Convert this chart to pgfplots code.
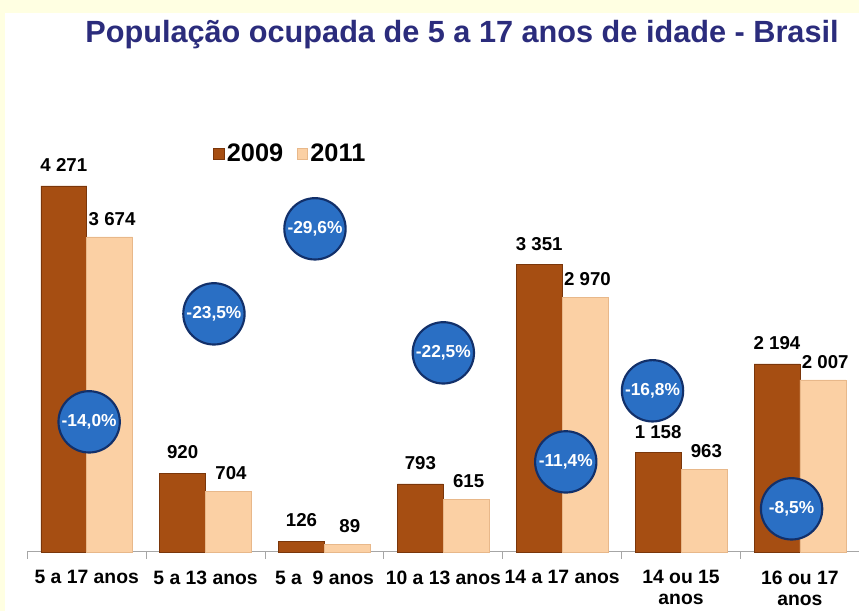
\documentclass[border=0pt]{standalone}
\usepackage{fontspec}
\setmainfont{Liberation Sans}
\usepackage{pgfplots}
\pgfplotsset{compat=1.18}
\definecolor{bgyellow}{HTML}{FFFFE2}
\definecolor{titleblue}{HTML}{2B2C7C}
\definecolor{cA}{HTML}{A64E12}
\definecolor{cAd}{HTML}{7A360A}
\definecolor{cB}{HTML}{FBD0A4}
\definecolor{cBd}{HTML}{E8B88A}
\definecolor{circblue}{HTML}{2A6FC4}
\definecolor{circdark}{HTML}{12306A}
\begin{document}
\begin{tikzpicture}[x=0.75pt,y=0.75pt]
\useasboundingbox (0,0) rectangle (859,611);
\fill[bgyellow] (0,0) rectangle (859,611);
\fill[white] (5,0) rectangle (859,598);
\node[font=\fontsize{23}{27}\selectfont\bfseries, text=titleblue] at (462,576) {População ocupada de 5 a 17 anos de idade - Brasil};
\begin{axis}[
  at={(23,69)}, anchor=south west,
  scale only axis, width=624pt, height=315.75pt,
  xmin=-0.5, xmax=6.5, ymin=0, ymax=4912,
  axis y line=none, axis x line=bottom,
  x axis line style={-, draw=gray!70, line width=0.8pt},
  xtick={0,...,6},
  xticklabels={5 a 17 anos, 5 a 13 anos, 5 a\ \ 9 anos, 10 a 13 anos, 14 a 17 anos, {14 ou 15\\anos}, {16 ou 17\\anos}},
  major tick length=0pt,
  minor xtick={-0.5,0.5,...,6.5},
  minor tick length=5pt, tick align=outside,
  minor tick style={draw=gray!70, line width=0.8pt},
  xticklabel style={font=\fontsize{14.5}{15.75}\selectfont\bfseries, align=center, yshift=-10.5pt},
  clip=false,
  /pgf/number format/assume math mode=true,
  /pgf/number format/1000 sep={\ },
  legend style={draw=none, fill=none, at={(0.218,0.945)}, anchor=west,
    font=\fontsize{19}{22}\selectfont\bfseries, legend columns=2,
    /tikz/every even column/.append style={column sep=8pt}},
  legend image code/.code={\fill[#1] (0pt,-4pt) rectangle (8pt,4pt);},
]
\addplot[ybar, bar width=0.386, bar shift=-0.193, fill=cA, draw=cAd, line width=0.4pt,
  nodes near coords, every node near coord/.append style={font=\fontsize{14}{16}\selectfont\bfseries, text=black, yshift=7pt, xshift=-17.2pt}]
  coordinates {(0,4271) (1,920) (2,126) (3,793) (4,3351) (5,1158) (6,2194)};
\addlegendentry{2009}
\addplot[ybar, bar width=0.386, bar shift=0.193, fill=cB, draw=cBd, line width=0.4pt,
  nodes near coords, every node near coord/.append style={font=\fontsize{14}{16}\selectfont\bfseries, text=black, yshift=5pt, xshift=19pt}]
  coordinates {(0,3674) (1,704) (2,89) (3,615) (4,2970) (5,963) (6,2007)};
\addlegendentry{2011}
\addplot[only marks, mark=*, mark size=23pt,
  mark options={fill=circblue, draw=circdark, line width=1.6pt},
  point meta=explicit symbolic, nodes near coords,
  every node near coord/.append style={anchor=center, text=white, font=\fontsize{13}{14}\selectfont\bfseries},
  forget plot]
  coordinates {(0.02,1517)[-14,0\%] (1.07,2777)[-23,5\%] (1.92,3769)[-29,6\%] (3.0,2322)[-22,5\%] (4.03,1050)[-11,4\%] (4.76,1879)[-16,8\%] (5.93,502)[-8,5\%]};
\end{axis}
\end{tikzpicture}
\end{document}
